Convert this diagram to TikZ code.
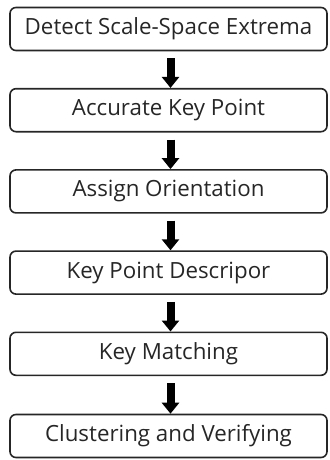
\documentclass[tikz,border=0pt]{standalone}
\usepackage{fontspec}
\setmainfont{Open Sans}
\usetikzlibrary{arrows.meta}
\begin{document}
\begin{tikzpicture}[x=1pt,y=-1pt,
  stepbox/.style={draw=black!85,line width=1.6pt,rounded corners=6pt,minimum width=317pt,minimum height=43pt,inner sep=0pt,font=\fontsize{22.3}{25}\selectfont,text=black!85},
  bigarrow/.style={line width=8pt,-{Triangle[width=17pt,length=11pt]},black,shorten <=7pt}]
\useasboundingbox (0,0) rectangle (329,460);
\node[stepbox] (a) at (168.5,29) {Detect Scale-Space Extrema};
\node[stepbox] (b) at (168.5,110.2) {Accurate Key Point};
\node[stepbox] (c) at (168.5,191.4) {Assign Orientation};
\node[stepbox] (d) at (168.5,272.6) {Key Point Descripor};
\node[stepbox] (e) at (168.5,353.8) {Key Matching};
\node[stepbox] (f) at (168.5,436) {Clustering and Verifying};
\foreach \p/\q in {a/b,b/c,c/d,d/e,e/f}
  \draw[bigarrow] ([xshift=2pt]\p.south) -- ([xshift=2pt]\q.north);
\end{tikzpicture}
\end{document}
